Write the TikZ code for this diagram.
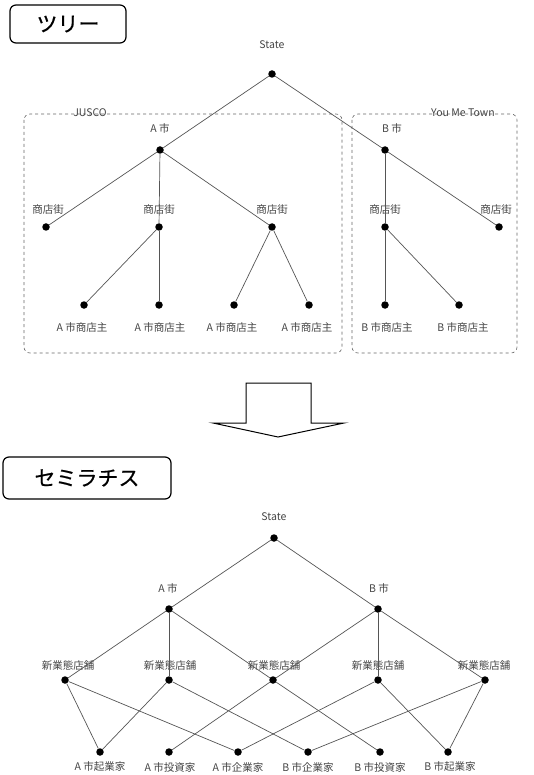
\documentclass[tikz,border=0pt]{standalone}
\usepackage{fontspec}
\setmainfont{Noto Sans CJK JP}
\newfontfamily\titlefont[FakeBold=0.6]{Noto Sans CJK JP}
\usetikzlibrary{positioning}
\definecolor{LineGray}{HTML}{555555}
\definecolor{TextGray}{HTML}{444444}
\tikzset{
  dot/.style={circle,fill=black,inner sep=0pt,minimum size=7.5pt},
  lbl/.style={font=\fontsize{10.5}{12}\selectfont,text=TextGray,inner sep=1pt},
  edge/.style={draw=LineGray,line width=0.7pt},
  titlebox/.style={draw,line width=1.2pt,rounded corners=6pt,
    font=\titlefont\fontsize{21}{24}\selectfont,inner sep=0pt},
  region/.style={draw=black!60,dashed,line width=0.6pt,rounded corners=6pt}
}

\begin{document}
\begin{tikzpicture}[x=1pt,y=-1pt]
  \useasboundingbox (0,0) rectangle (534,775);

  % tree
  \node[titlebox,minimum width=116pt,minimum height=38pt] (treetitle) at (68,24) {ツリー};
  \draw[region] (24,114) rectangle (342,353);
  \draw[region] (352,114) rectangle (517,353);
  \node[lbl] (jusco) at (90,113) {JUSCO};
  \node[lbl] (youme) at (463,113) {You Me Town};

  \foreach \n/\x/\y in {st/272/74,am/160/150,bm/385/150,
      s1/46/227,s2/159/227,s3/272/227,s4/385/227,s5/499/227,
      o1/84/305,o2/159/305,o3/234/305,o4/309/305,o5/385/305,o6/459/305}
    \node[dot] (\n) at (\x,\y) {};
  \node[lbl] (stl) at (272,45) {State};
  \node[lbl] (aml) at (160,129) {A 市};
  \node[lbl] (bml) at (392,129) {B 市};
  \foreach \n/\x in {1/48,2/159,3/272,4/385,5/496}
    \node[lbl] (sl\n) at (\x,210) {商店街};
  \foreach \n/\x/\t in {1/82/A,2/160/A,3/232/A,4/307/A,5/387/B,6/463/B}
    \node[lbl] (ol\n) at (\x,327) {\t\ 市商店主};

  \foreach \a/\b in {st/am,st/bm,am/s1,am/s2,am/s3,bm/s4,bm/s5,
      s2/o1,s2/o2,s3/o3,s3/o4,s4/o5,s4/o6}
    \draw[edge] (\a) -- (\b);

  % arrow
  \draw[line width=1pt,line join=miter] (246,423) -- (246,383) -- (311,383) -- (311,423)
    -- (344,423) -- (278,437) -- (213,423) -- cycle;

  % semilattice
  \node[titlebox,minimum width=168pt,minimum height=42pt] (latttitle) at (87,478) {セミラチス};

  \foreach \n/\x/\y in {lst/274/538,la/169/609,lb/378/609,
      n1/65/680,n2/169/680,n3/273/680,n4/378/680,n5/485/680,
      p1/100/752,p2/169/752,p3/238/752,p4/308/752,p5/380/752,p6/448/752}
    \node[dot] (\n) at (\x,\y) {};
  \node[lbl] (lstl) at (274,517) {State};
  \node[lbl] (lal) at (168,588) {A 市};
  \node[lbl] (lbl) at (379,588) {B 市};
  \foreach \n/\x in {1/68,2/170,3/274,4/378,5/484}
    \node[lbl] (nl\n) at (\x,665) {新業態店舗};
  \foreach \n/\x/\t in {1/100/A 市起業家,2/170/A 市投資家,3/238/A 市企業家,
      4/308/B 市企業家,5/380/B 市投資家,6/450/B 市起業家}
    \node[lbl] (pl\n) at (\x,767) {\t};

  \foreach \a/\b in {lst/la,lst/lb,la/n1,la/n2,la/n3,lb/n3,lb/n4,lb/n5,
      n1/p1,n1/p3,n2/p1,n2/p4,n3/p2,n3/p5,n4/p3,n4/p6,n5/p4,n5/p6}
    \draw[edge] (\a) -- (\b);
\end{tikzpicture}
\end{document}
